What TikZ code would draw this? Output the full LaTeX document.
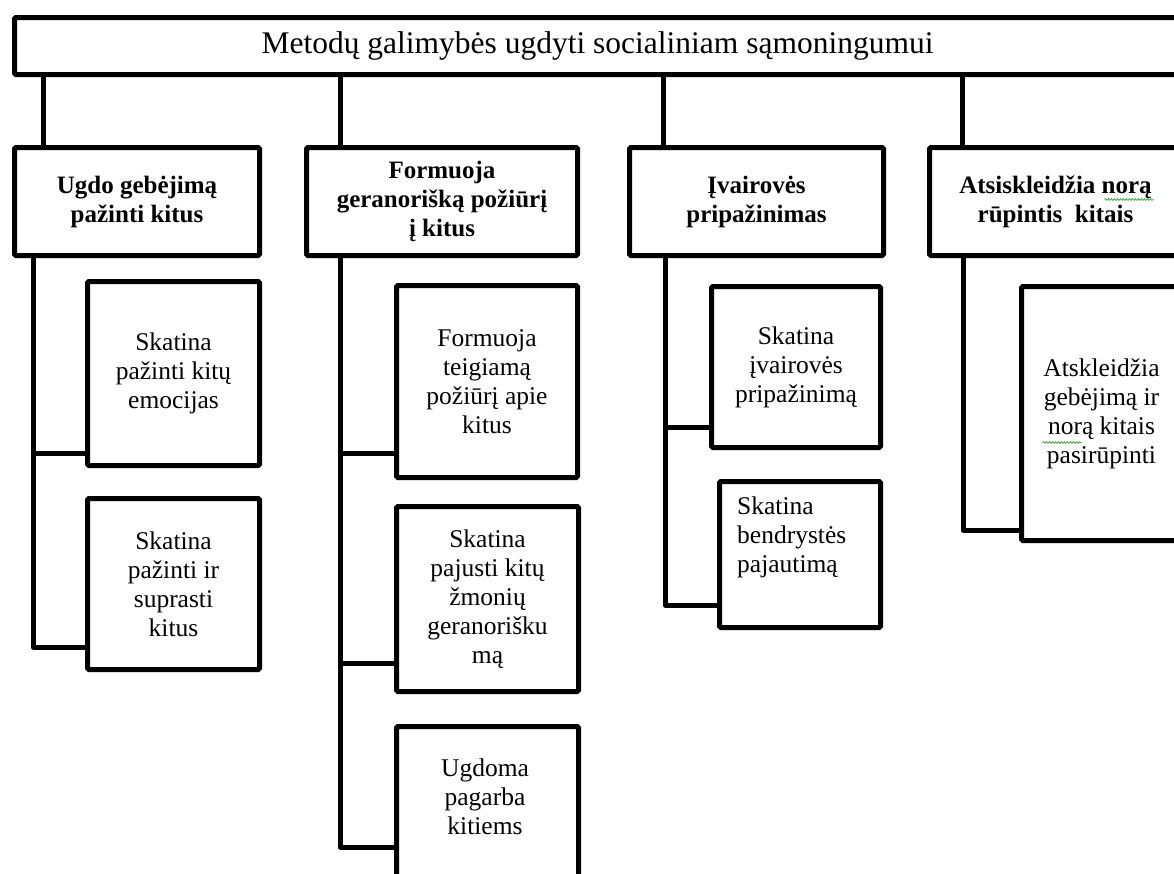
\documentclass[tikz,border=0pt]{standalone}
\usepackage{fontspec}
\setmainfont{Liberation Serif}
\usetikzlibrary{decorations.pathmorphing}
\definecolor{spellgreen}{rgb}{0.30,0.65,0.30}

\tikzset{
  frame/.style={draw, line width=5pt, rounded corners=1.5pt, inner sep=0pt,
                anchor=north west, align=center},
  titlebox/.style={frame, font=\fontsize{31.5}{36}\selectfont},
  headbox/.style={frame, minimum height=108pt, font=\fontsize{25}{29}\selectfont\bfseries},
  leafbox/.style={frame, font=\fontsize{25.5}{29}\selectfont},
  leaftext/.style={inner sep=0pt, font=\fontsize{25.5}{29}\selectfont},
  link/.style={line width=5pt, line join=round},
  % wavy green underline left by a spell checker
  spell/.style={spellgreen, line width=0.8pt,
                decorate, decoration={snake, segment length=3pt, amplitude=0.9pt}}
}

\begin{document}
\begin{tikzpicture}[x=1pt, y=-1pt]
\useasboundingbox (0,0) rectangle (1174,873);
\clip (0,0) rectangle (1174,873);
\fill[white] (0,0) rectangle (1174,873);

% root
\node[titlebox, minimum width=1166pt, minimum height=57pt] (T) at (12,15)
  {Metodų galimybės ugdyti socialiniam sąmoningumui};

% first level
\node[headbox, minimum width=245pt] (A1) at (12,145) {Ugdo gebėjimą\\pažinti kitus};
\node[headbox, minimum width=271pt] (A2) at (304,145) {Formuoja\\geranorišką požiūrį\\į kitus};
\node[headbox, minimum width=254pt] (A3) at (627,145) {Įvairovės\\pripažinimas};
\node[headbox, minimum width=252pt] (A4) at (927,145) {Atsiskleidžia norą\\rūpintis\ \ kitais};

% second level
\node[leafbox, minimum width=172pt, minimum height=184pt] (B11) at (85,279) {Skatina\\pažinti kitų\\emocijas};
\node[leafbox, minimum width=172pt, minimum height=171pt] (B12) at (85,496) {Skatina\\pažinti ir\\suprasti\\kitus};

\node[leafbox, minimum width=181pt, minimum height=192pt] (B21) at (394,283) {Formuoja\\teigiamą\\požiūrį apie\\kitus};
\node[leafbox, minimum width=182pt, minimum height=185pt] (B22) at (394,504) {Skatina\\pajusti kitų\\žmonių\\geranorišku\\mą};
\node[leafbox, minimum width=182pt, minimum height=200pt] (B23) at (394,724) {};
\node[leaftext, align=center] (B23t) at (485,797) {Ugdoma\\pagarba\\kitiems};

\node[leafbox, minimum width=169pt, minimum height=161pt] (B31) at (709,284) {Skatina\\įvairovės\\pripažinimą};
\node[leafbox, minimum width=161pt, minimum height=146pt] (B32) at (717,479) {};
\node[leaftext, align=left, anchor=west] (B32t) at (737,537) {Skatina\\bendrystės\\pajautimą};

\node[leafbox, minimum width=160pt, minimum height=254pt] (B41) at (1019,284) {Atskleidžia\\gebėjimą ir\\norą kitais\\pasirūpinti};

% spell-check marks under "norą"
\draw[spell] ([shift={(49,-2)}]A4.center) -- ([shift={(98,-2)}]A4.center);
\draw[spell] ([shift={(-59,29)}]B41.center) -- ([shift={(-20,29)}]B41.center);

% root to first level
\foreach \n/\s in {A1/31, A2/36, A3/36, A4/35}
  \draw[link] ([xshift=\s]\n.north west) -- ([xshift=\s]\n.north west |- T.south);

% column trunks
\coordinate (k1) at ([xshift=21]A1.south west);
\coordinate (k2) at ([xshift=36]A2.south west);
\coordinate (k3) at ([xshift=38]A3.south west);
\coordinate (k4) at ([xshift=36]A4.south west);

\draw[link] (k1) |- ([yshift=25]B12.south west);
\coordinate (b11) at ([yshift=15]B11.south west);
\draw[link] (b11) -- (k1 |- b11);

\draw[link] (k2) |- ([yshift=-123]B23.north west);
\coordinate (b21) at ([yshift=27]B21.south west);
\coordinate (b22) at ([yshift=31]B22.south west);
\draw[link] (b21) -- (k2 |- b21);
\draw[link] (b22) -- (k2 |- b22);

\draw[link] (k3) |- ([yshift=25]B32.south west);
\coordinate (b31) at ([yshift=23]B31.south west);
\draw[link] (b31) -- (k3 |- b31);

\draw[link] (k4) |- ([yshift=13]B41.south west);
\end{tikzpicture}
\end{document}
